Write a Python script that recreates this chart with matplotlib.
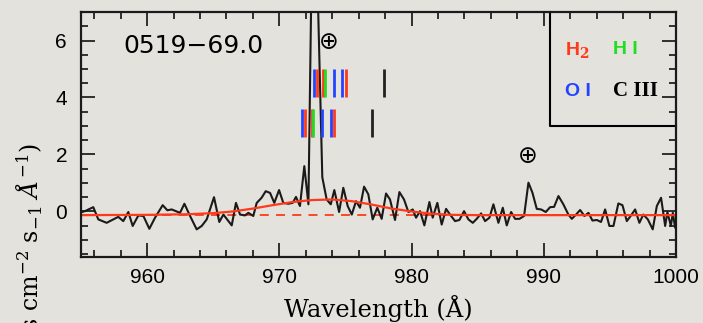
import matplotlib.pyplot as plt
from matplotlib.ticker import MultipleLocator

# Espectro (longitud de onda en A, flujo)
longitud_onda = [955.00, 955.30, 955.93, 956.31, 956.94, 957.44, 957.82, 958.20, 958.58, 958.91,
                 959.34, 959.72, 960.17, 960.60, 961.18, 961.53, 961.86, 962.49, 962.82, 963.25,
                 963.75, 964.13, 964.51, 965.06, 965.46, 965.77, 966.40, 966.72, 967.03, 967.40,
                 967.66, 968.03, 968.29, 968.66, 968.97, 969.30, 969.62, 969.98, 970.30, 970.68,
                 971.01, 971.26, 971.56, 971.89, 972.20, 972.59, 973.25, 973.58, 973.89, 974.16,
                 974.52, 974.84, 975.17, 975.48, 975.80, 976.10, 976.41, 976.73, 977.06, 977.41,
                 977.74, 978.07, 978.37, 978.75, 979.08, 979.43, 979.76, 980.09, 980.34, 980.64,
                 980.97, 981.35, 981.60, 981.95, 982.28, 982.61, 982.91, 983.29, 983.62, 983.97,
                 984.30, 984.63, 984.93, 985.26, 985.56, 985.89, 986.19, 986.57, 986.90, 987.20,
                 987.53, 987.83, 988.16, 988.51, 988.84, 989.14, 989.47, 989.80, 990.15, 990.48,
                 990.78, 991.11, 991.48, 991.86, 992.12, 992.44, 992.75, 993.07, 993.38, 993.68,
                 994.01, 994.33, 994.64, 994.96, 995.27, 995.64, 995.95, 996.28, 996.60, 996.91,
                 997.23, 997.53, 997.87, 998.24, 998.55, 998.87, 999.18, 999.35, 999.61, 999.76,
                 999.93, 1000.10]
flujo = [-0.03, 0.01, 0.15, -0.28, -0.40, -0.28, -0.19, -0.34, -0.02, -0.51,
         -0.14, -0.16, -0.61, -0.22, 0.22, 0.04, 0.07, -0.05, 0.27, -0.16,
         -0.63, -0.51, -0.28, 0.50, -0.37, -0.11, -0.49, 0.30, -0.11, -0.14,
         -0.05, -0.16, 0.30, 0.48, 0.71, 0.65, 0.30, 0.75, 0.30, 0.27,
         0.30, 0.51, 0.19, 1.59, 0.25, 13.6, 1.20, 0.42, 0.25, 0.75,
         -0.02, 0.83, 0.19, -0.11, 0.36, 0.13, 0.87, 0.60, -0.28, 0.13,
         -0.26, 0.63, 0.42, -0.30, 0.68, 0.42, -0.02, 0.07, -0.22, 0.01,
         -0.49, 0.33, -0.22, 0.30, -0.46, 0.09, -0.11, -0.34, -0.30, 0.01,
         -0.28, -0.40, -0.26, -0.07, -0.34, -0.22, 0.25, -0.40, 0.13, -0.49,
         -0.02, -0.26, -0.26, -0.16, 1.01, 0.66, 0.09, 0.07, -0.02, 0.15,
         0.16, 0.54, 0.25, -0.11, -0.26, -0.11, 0.05, -0.16, -0.05, -0.32,
         -0.30, -0.37, 0.07, -0.51, -0.51, 0.28, 0.22, -0.34, -0.14, 0.07,
         -0.40, -0.11, -0.28, -0.63, 0.19, 0.48, -0.51, -0.02, -0.51, -0.05,
         -0.57, -0.40]

# Ajuste del continuo (rojo) y nivel cero (rojo discontinuo)
ajuste_onda = [955, 960, 963, 965, 966.5, 968, 969.5, 971, 972.5, 974, 975.5, 977, 978.5, 980, 981.5, 983, 985, 1000]
ajuste_flujo = [-0.13, -0.12, -0.10, -0.06, 0.0, 0.10, 0.22, 0.33, 0.40, 0.42, 0.36, 0.24, 0.10, 0.0, -0.08, -0.12, -0.13, -0.13]
nivel_cero = -0.12

# Marcas de lineas de absorcion
rojo = '#ff3a1a'
verde = '#22dd22'
azul = '#2244ff'
negro = '#222222'
fila1_onda = [972.62, 972.87, 973.33, 973.42, 974.11, 974.77, 975.05, 977.94]
fila1_color = [azul, rojo, rojo, verde, azul, azul, rojo, negro]
fila2_onda = [971.72, 971.94, 972.45, 972.54, 973.23, 973.89, 974.11, 976.99]
fila2_color = [azul, rojo, rojo, verde, azul, azul, rojo, negro]

fondo = '#e4e2dd'

plt.rcParams['mathtext.fontset'] = 'dejavuserif'

fig = plt.figure(figsize=(7.03, 3.23), dpi=100, facecolor=fondo)
ax = fig.add_axes([0.1152, 0.2043, 0.8464, 0.7585])
ax.set_facecolor('none')

ax.plot([955, 1000], [nivel_cero, nivel_cero], color=rojo, lw=1.3, ls=(0, (5, 4)))
ax.plot(longitud_onda, flujo, color='#1a1a1a', lw=1.5)
ax.plot(ajuste_onda, ajuste_flujo, color=rojo, lw=1.6)

ax.vlines(fila1_onda, 4.0, 5.0, colors=fila1_color, lw=2)
ax.vlines(fila2_onda, 2.6, 3.6, colors=fila2_color, lw=2)

# simbolos de la Tierra (lineas de airglow)
ax.text(973.76, 5.96, '\u2295', ha='center', va='center', fontsize=17, family='DejaVu Sans')
ax.text(988.81, 1.96, '\u2295', ha='center', va='center', fontsize=17, family='DejaVu Sans')

ax.text(958.2, 5.8, '0519\u221269.0', fontsize=18, family='DejaVu Sans', va='center')

# caja de la leyenda
ax.plot([990.5, 990.5, 1000], [7, 3.0, 3.0], color='k', lw=1.5, clip_on=False)
ax.text(991.6, 5.68, r'H$_{\bf 2}$', color=rojo, fontsize=14, family='Liberation Sans',
        fontweight='bold', va='center')
ax.text(995.24, 5.68, 'H I', color=verde, fontsize=14, family='Liberation Sans',
        fontweight='bold', va='center')
ax.text(991.6, 4.21, 'O I', color=azul, fontsize=14, family='Liberation Sans',
        fontweight='bold', va='center')
ax.text(995.24, 4.21, 'C III', color='k', fontsize=15, family='Liberation Serif',
        fontweight='bold', va='center')

ax.set_xlim(955, 1000)
ax.set_ylim(-1.6, 7)
ax.set_xticks([960, 970, 980, 990, 1000])
ax.set_yticks([0, 2, 4, 6])
ax.xaxis.set_minor_locator(MultipleLocator(2))
ax.yaxis.set_minor_locator(MultipleLocator(0.5))
ax.tick_params(which='both', direction='in', top=True, right=True, width=1.3, color='#222222')
ax.tick_params(which='major', length=10, labelsize=15)
ax.tick_params(which='minor', length=5)
ax.tick_params(axis='y', pad=10)
ax.tick_params(axis='x', pad=8)
for etiqueta in ax.get_xticklabels() + ax.get_yticklabels():
    etiqueta.set_family('Liberation Sans')
for borde in ax.spines.values():
    borde.set_linewidth(1.6)
    borde.set_color('#1a1a1a')

ax.set_xlabel('Wavelength (\u00c5)', family='DejaVu Serif', fontsize=17.5, labelpad=6)
fig.text(0.043, 180 / 323, r'Flux (10$^{-14}$ ergs cm$^{-2}$ s$_{-1}$ $\AA^{-1}$)',
         rotation=90, ha='center', va='top', family='DejaVu Serif', fontsize=17)

fig.savefig('out.png', dpi=100, facecolor=fondo)
